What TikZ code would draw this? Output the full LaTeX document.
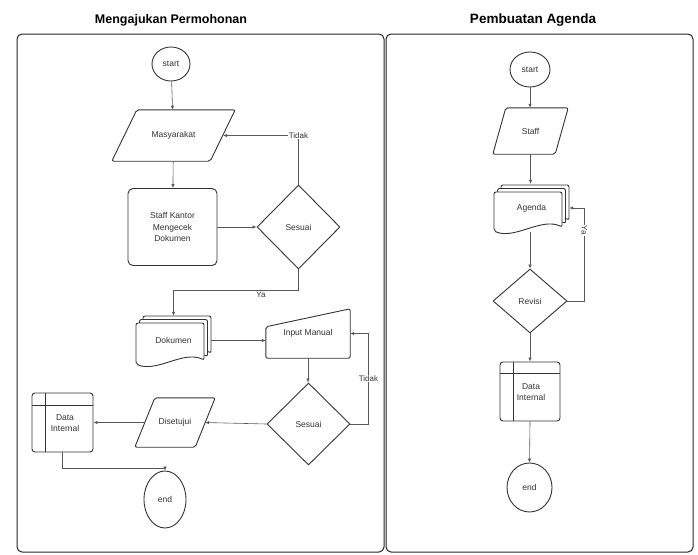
\documentclass[tikz,border=0pt]{standalone}
\usepackage{fontspec}
\setmainfont{Liberation Sans}
\usetikzlibrary{shapes.geometric,arrows.meta,calc}
\newcommand\docpath[4]{(#1-#3,#2-#4) -- (#1+#3,#2-#4) -- (#1+#3,#2+#4-5) .. controls (#1+0.4*#3,#2+#4-15) and (#1-0.4*#3,#2+#4+8) .. (#1-#3,#2+#4-1) -- cycle}
\newcommand\paraframe[2]{\draw[shp, rounded corners=2pt] ([xshift=#2]#1.north west) -- (#1.north east) -- ([xshift=-#2]#1.south east) -- (#1.south west) -- cycle;}
\begin{document}
\begin{tikzpicture}[x=1pt,y=-1pt,
 shp/.style={draw=black!80, line width=0.9pt},
 conn/.style={draw=black!65, line width=0.6pt},
 arr/.style={conn,-{Latex[length=4pt,width=3.5pt]}},
 txt/.style={font=\fontsize{8.5}{11.5}\selectfont, text=black!80},
 lbl/.style={font=\fontsize{8}{9}\selectfont, fill=white, inner sep=0.8pt, text=black!80},
 term/.style={shp, ellipse, inner sep=0pt, txt},
 box/.style={inner sep=0pt, txt, align=center},
 dia/.style={shp, diamond, inner sep=0pt, txt},
 panel/.style={draw=black!85, line width=1pt, rounded corners=5pt},
 ttl/.style={font=\bfseries\fontsize{12.5}{14}\selectfont}
]
\useasboundingbox (0,0) rectangle (698,554);
\fill[white] (0,0) rectangle (698,554);

% panels
\draw[panel] (17,34) rectangle (384,552);
\draw[panel] (386,34) rectangle (693,552);
\node[ttl] (t1) at (171,20) {Mengajukan Permohonan};
\node[ttl, font=\bfseries\fontsize{13.5}{15}\selectfont] (t2) at (533,20) {Pembuatan Agenda};

% ---------- left panel ----------
\node[term, minimum width=38pt, minimum height=34pt] (start1) at (171,64) {start};

\node[box, minimum width=123pt, minimum height=51pt] (mas) at (173.5,135.5) {Masyarakat};
\paraframe{mas}{25}

\node[box, shp, rounded corners=5pt, minimum width=89pt, minimum height=77pt] (sk) at (172.5,227) {Staff Kantor\\Mengecek\\Dokumen};

\node[dia, minimum width=83pt, minimum height=84pt] (ses1) at (298.5,227) {Sesuai};

% Dokumen (multi document)
\draw[shp, fill=white, rounded corners=2pt] \docpath{177}{337}{34}{21};
\draw[shp, fill=white, rounded corners=2pt] \docpath{173.5}{340.5}{34}{21};
\draw[shp, fill=white, rounded corners=2pt] \docpath{170}{344}{34}{21};
\node[box, minimum width=75pt, minimum height=49pt] (dok) at (173.5,340.5) {Dokumen};

% Input Manual
\node[box, minimum width=84pt, minimum height=49pt] (im) at (308,333.5) {Input Manual};
\draw[shp, rounded corners=2pt] (im.south west) -- ([yshift=-18]im.north west) -- (im.north east) -- (im.south east) -- cycle;

\node[dia, minimum width=83pt, minimum height=82pt] (ses2) at (308.5,424) {Sesuai};

\node[box, minimum width=80pt, minimum height=49pt] (dis) at (175,422.5) {Disetujui};
\paraframe{dis}{20}

% Data Internal (left)
\node[box, shp, rounded corners=3pt, minimum width=61pt, minimum height=59pt] (di1) at (62.5,422.5) {};
\draw[shp] (45,393) -- (45,452);
\draw[shp] (32,405) -- (93,405);
\node[box] (di1t) at (65,423) {Data\\Internal};

\node[term, minimum width=42pt, minimum height=57pt] (end1) at (165,499.5) {end};

% connectors left
\draw[arr] (start1) -- (mas);
\draw[arr] (mas) -- (sk);
\draw[arr] (sk) -- (ses1);
\draw[arr] (ses1.north) |- ([xshift=-12]mas.east) node[pos=0.5, lbl] {Tidak};
\draw[arr] (ses1.south) -- ++(0,21) -| (dok.north) node[pos=0.15, below=0.5pt, lbl, fill=none] {Ya};
\draw[arr] (dok.east) -- (dok.east -| im.west);
\draw[arr] (im.south) -- (im.south |- ses2.north);
\draw[arr] (ses2.east) -- ++(18,0) |- (im.east) node[pos=0.25, lbl] {Tidak};
\draw[arr] (ses2.west) -- ([xshift=-10]dis.east);
\draw[arr] ([xshift=10]dis.west) -- (di1.east);
\draw[arr] (di1.south) -- ++(0,16) -| (end1.north);

% ---------- right panel ----------
\node[term, minimum width=40pt, minimum height=35pt] (start2) at (530,69.5) {start};

\node[box, minimum width=75pt, minimum height=46pt] (staff2) at (530.5,131) {Staff};
\paraframe{staff2}{13}

\draw[shp, fill=white, rounded corners=2pt] \docpath{535}{205}{34}{20};
\draw[shp, fill=white, rounded corners=2pt] \docpath{531.5}{208.5}{34}{20};
\draw[shp, fill=white, rounded corners=2pt] \docpath{528}{212}{34}{20};
\node[box, minimum width=75pt, minimum height=48pt] (ag) at (531.5,208) {Agenda};

\node[dia, minimum width=74pt, minimum height=64pt] (rev) at (530,301) {Revisi};

\node[box, shp, rounded corners=3pt, minimum width=60pt, minimum height=59pt] (di2) at (530,391.5) {};
\draw[shp] (513,362) -- (513,421);
\draw[shp] (500,373) -- (560,373);
\node[box] (di2t) at (531,392) {Data\\Internal};

\node[term, minimum width=45pt, minimum height=49pt] (end2) at (529.5,487.5) {end};

% connectors right
\draw[arr] (start2.south) -- (start2.south |- staff2.north);
\draw[arr] (staff2.south) -- (staff2.south |- ag.north);
\draw[arr] (ag.south -| rev.north) -- (rev.north);
\draw[arr] (rev.east) -- ++(17,0) |- (ag.east) node[pos=0.38, lbl, rotate=-90] {Ya};
\draw[arr] (rev.south) -- (di2.north);
\draw[arr] (di2.south) -- (end2.north);
\end{tikzpicture}
\end{document}
